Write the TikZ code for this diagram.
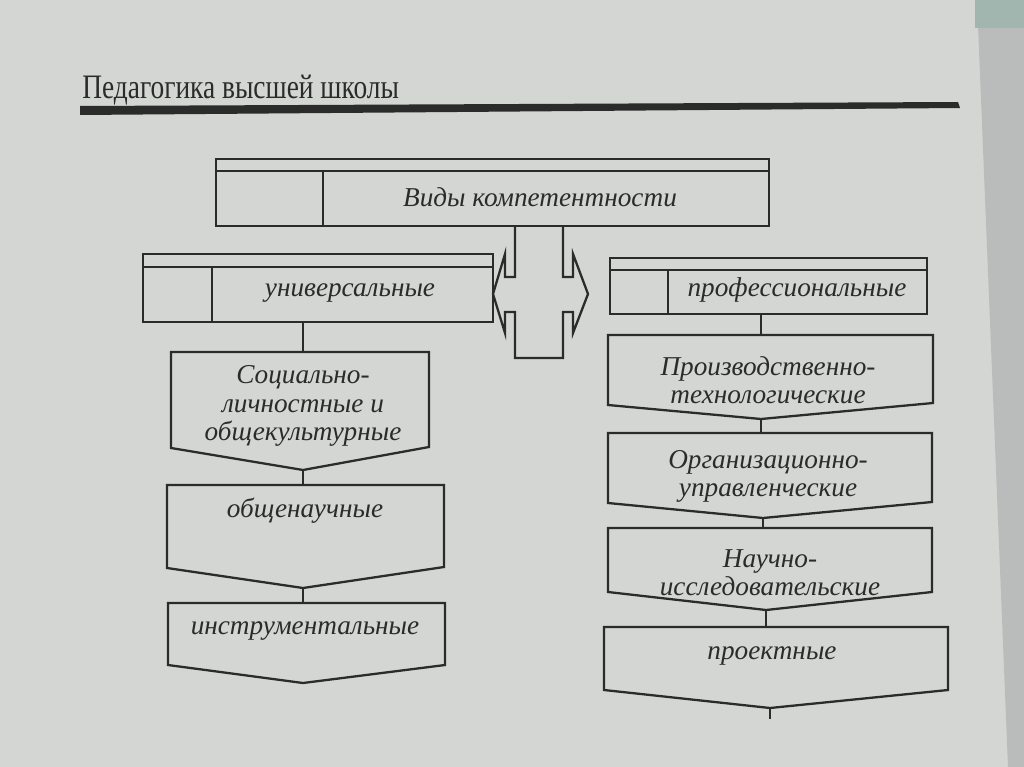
\documentclass[tikz,border=0pt]{standalone}
\usepackage{fontspec}
\setmainfont{Liberation Serif}
\newfontfamily\headfont[FakeStretch=0.80]{Liberation Serif}
\usepackage{tikz}
\definecolor{PGPage}{HTML}{D3D6D2}
\definecolor{PGEdge}{HTML}{B9BCBB}
\definecolor{PGCorner}{HTML}{A2B6B0}
\definecolor{PGInk}{HTML}{2B2B2B}

\tikzset{
  boxline/.style={draw=PGInk,line width=1.3pt,line join=miter},
  framebox/.style={boxline,rectangle,inner sep=0pt},
  lbl/.style={font=\fontsize{15.5}{16}\selectfont\itshape,text=PGInk,align=center,inner sep=0pt}
}

\begin{document}
\begin{tikzpicture}[x=0.02cm,y=-0.02cm]
\path[use as bounding box] (0,0) rectangle (1024,767);
\fill[PGPage] (0,0) rectangle (1024,767);
\fill[PGEdge] (977,0) -- (1024,0) -- (1024,767) -- (1008,767) -- cycle;
\fill[PGCorner] (975,0) rectangle (1024,28);

% running head
\node[anchor=base west,inner sep=0pt,text=PGInk,font=\headfont\fontsize{19.5}{22}\selectfont] (head) at (82,99) {Педагогика высшей школы};
\fill[PGInk] (80,106) -- (958,102) -- (960,108) -- (80,115) -- cycle;

% top level
\node[framebox,minimum width=11.06cm,minimum height=1.34cm] (vidybox) at (492.5,192.5) {};
\draw[boxline] (216,171) -- (769,171) (323,171) -- (323,226);
\node[lbl] (vidy) at (540,197) {Виды компетентности};

\node[framebox,minimum width=7cm,minimum height=1.36cm] (univbox) at (318,288) {};
\draw[boxline] (143,267) -- (493,267) (212,267) -- (212,322);
\node[lbl] (univ) at (350,293) {универсальные};

\node[framebox,minimum width=6.34cm,minimum height=1.12cm] (profbox) at (768.5,286) {};
\draw[boxline] (610,270) -- (927,270) (668,270) -- (668,314);
\node[lbl] (prof) at (797,290) {профессиональные};

% double arrow under the top box
\draw[boxline] (515,226) -- (515,277) -- (505,277) -- (505,254) -- (493,294) -- (505,333) -- (505,312) -- (515,312)
  -- (515,358) -- (563,358) -- (563,312) -- (573,312) -- (573,333) -- (588,294) -- (573,254) -- (573,277) -- (563,277) -- (563,226);

% left column
\draw[boxline] (171,352) -- (303,352) coordinate (soc-top) -- (429,352) -- (429,447) -- (303,470) coordinate (soc-tip) -- (171,448) -- cycle;
\node[lbl] (soc) at (303,406) {Социально-\\личностные и\\общекультурные};
\draw[boxline] (167,485) -- (303,485) coordinate (gen-top) -- (444,485) -- (444,567) -- (303,588) coordinate (gen-tip) -- (167,568) -- cycle;
\node[lbl] (gen) at (305,511) {общенаучные};
\draw[boxline] (168,603) -- (303,603) coordinate (ins-top) -- (445,603) -- (445,665) -- (303,683) coordinate (ins-tip) -- (168,665) -- cycle;
\node[lbl] (ins) at (305,631) {инструментальные};

\draw[boxline] (soc-top |- univbox.south) -- (soc-top);
\draw[boxline] (soc-tip) -- (gen-top);
\draw[boxline] (gen-tip) -- (ins-top);

% right column
\draw[boxline] (608,335) -- (761,335) coordinate (tech-top) -- (933,335) -- (933,403) -- (761,419) coordinate (tech-tip) -- (608,405) -- cycle;
\node[lbl] (tech) at (768,380) {Производственно-\\технологические};
\draw[boxline] (608,433) -- (761,433) coordinate (org-top) -- (932,433) -- (932,502) -- (763,518) coordinate (org-tip) -- (608,503) -- cycle;
\node[lbl] (org) at (768,476) {Организационно-\\управленческие};
\draw[boxline] (608,528) -- (763,528) coordinate (sci-top) -- (932,528) -- (932,592) -- (766,610) coordinate (sci-tip) -- (608,592) -- cycle;
\node[lbl] (sci) at (770,573) {Научно-\\исследовательские};
\draw[boxline] (604,627) -- (766,627) coordinate (proj-top) -- (948,627) -- (948,690) -- (770,708) coordinate (proj-tip) -- (604,690) -- cycle;
\node[lbl] (proj) at (772,656) {проектные};
\coordinate (proj-end) at (770,719);

\draw[boxline] (tech-top |- profbox.south) -- (tech-top);
\draw[boxline] (tech-tip) -- (org-top);
\draw[boxline] (org-tip) -- (sci-top);
\draw[boxline] (sci-tip) -- (proj-top);
\draw[boxline] (proj-tip) -- (proj-end);
\end{tikzpicture}
\end{document}
